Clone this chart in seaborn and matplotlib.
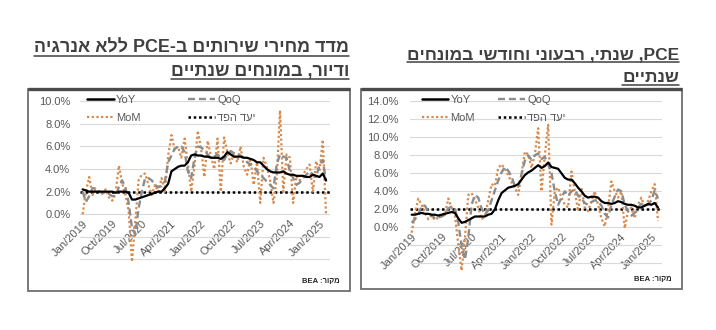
import numpy as np
import pandas as pd
import matplotlib
matplotlib.use('Agg')
import matplotlib.pyplot as plt
import seaborn as sns
from matplotlib.lines import Line2D
from matplotlib.patches import Rectangle
from matplotlib.ticker import FuncFormatter

# ---------------- data (monthly, Jan 2019 - Mar 2025, % annualized) ----------------
tick_labels = ['Jan/2019', 'Oct/2019', 'Jul/2020', 'Apr/2021', 'Jan/2022',
               'Oct/2022', 'Jul/2023', 'Apr/2024', 'Jan/2025']
tick_positions = [0, 9, 18, 27, 36, 45, 54, 63, 72]
fed_target = 2.0

# Left panel: PCE services ex energy & housing
left_yoy = [2.2, 2.1, 2.0, 2.0, 2.0, 2.0, 2.0, 2.0, 2.0, 2.0, 1.9, 2.0,
            2.0, 2.0, 1.9, 1.3, 1.3, 1.4, 1.5, 1.6, 1.7, 1.8, 1.9, 2.0,
            2.0, 2.3, 2.7, 3.8, 4.0, 4.2, 4.3, 4.3, 4.6, 5.2, 5.3, 5.2,
            5.2, 5.1, 5.1, 5.0, 5.0, 5.0, 4.9, 5.1, 5.5, 5.3, 5.1, 5.1,
            5.1, 5.0, 5.0, 4.9, 4.8, 4.6, 4.6, 4.3, 4.0, 3.8, 3.7, 3.7,
            3.7, 3.8, 3.6, 3.5, 3.5, 3.4, 3.4, 3.4, 3.3, 3.3, 3.5, 3.4,
            3.3, 3.6, 3.0]
left_qoq = [2.0, 1.1, 1.6, 2.3, 2.3, 2.0, 1.9, 1.9, 1.8, 1.6, 1.6, 2.4,
            3.0, 2.4, 1.0, -1.2, -1.8, 0.5, 2.0, 3.2, 3.2, 3.0, 2.6, 2.4,
            2.5, 2.9, 4.6, 5.2, 5.8, 6.0, 6.0, 5.5, 3.8, 3.2, 5.0, 6.0,
            5.9, 5.7, 5.3, 5.0, 5.1, 5.3, 5.0, 4.8, 5.3, 5.6, 5.4, 5.3,
            5.2, 5.0, 4.6, 4.4, 4.2, 3.8, 3.5, 3.2, 2.9, 2.6, 2.3, 4.4,
            5.3, 5.1, 5.0, 3.8, 3.2, 2.6, 2.8, 3.2, 3.5, 3.8, 3.5, 3.3,
            4.4, 4.8, 2.9]
left_mom = [0.0, 2.0, 3.3, 1.7, 2.2, 2.0, 1.8, 2.2, 1.5, 1.2, 1.8, 4.3,
            2.8, 1.7, 0.3, -4.2, -0.7, 3.0, 3.5, 3.6, 2.6, 1.7, 2.6, 2.0,
            3.2, 2.0, 5.2, 7.0, 5.7, 6.0, 5.0, 6.7, 4.5, 2.0, 4.2, 7.4,
            5.8, 3.3, 6.5, 5.2, 4.0, 6.7, 2.0, 6.8, 5.5, 4.5, 5.4, 4.6,
            6.0, 4.2, 3.5, 5.0, 2.6, 4.6, 1.0, 5.0, 4.2, 3.0, 1.0, 3.2,
            9.2, 2.0, 5.3, 5.0, 1.0, 3.4, 3.0, 3.5, 4.0, 4.4, 2.0, 4.7,
            3.8, 6.6, 0.0]

# Right panel: headline PCE
right_yoy = [1.4, 1.4, 1.5, 1.6, 1.5, 1.5, 1.4, 1.4, 1.3, 1.4, 1.5, 1.6,
             1.7, 1.6, 1.0, 0.5, 0.6, 0.8, 1.0, 1.2, 1.2, 1.2, 1.2, 1.4,
             1.5, 2.0, 3.0, 3.8, 4.1, 4.4, 4.5, 4.6, 4.8, 5.3, 5.8, 6.1,
             6.3, 6.6, 6.9, 6.6, 6.8, 7.2, 6.7, 6.6, 6.5, 6.0, 5.5, 5.3,
             5.3, 4.9, 4.4, 4.0, 3.5, 3.3, 3.4, 3.4, 3.3, 2.9, 2.7, 2.7,
             2.6, 2.7, 2.9, 2.8, 2.6, 2.5, 2.5, 2.4, 2.2, 2.2, 2.4, 2.6,
             2.5, 2.7, 2.2]
right_qoq = [0.5, 0.9, 1.4, 2.4, 2.4, 1.7, 1.3, 1.0, 1.1, 1.2, 1.4, 2.1,
             2.3, 2.1, 0.5, -2.0, -3.6, -1.2, 2.5, 3.6, 3.3, 2.1, 1.4, 1.9,
             3.0, 4.1, 5.2, 6.1, 6.7, 6.3, 5.6, 4.6, 4.5, 5.9, 7.4, 8.0,
             7.5, 8.0, 8.2, 7.6, 7.8, 7.0, 6.0, 4.0, 2.5, 3.3, 4.0, 3.5,
             4.0, 4.2, 3.5, 3.2, 2.7, 2.5, 2.8, 3.0, 2.9, 2.4, 1.5, 1.1,
             2.5, 3.4, 4.2, 4.0, 2.5, 1.8, 1.3, 1.6, 2.2, 2.6, 2.4, 2.5,
             3.0, 4.1, 3.2]
right_mom = [-0.6, 1.5, 3.2, 2.5, 1.6, 0.9, 1.3, 0.8, 1.1, 1.6, 1.4, 3.2,
             2.2, 1.3, -1.9, -4.8, -1.2, 3.6, 3.8, 3.1, 2.2, 0.9, 1.2, 3.0,
             4.8, 4.6, 6.6, 7.0, 6.5, 5.8, 5.0, 4.4, 3.6, 5.9, 8.4, 8.1,
             6.6, 8.1, 11.0, 4.0, 8.0, 11.4, 0.3, 4.0, 4.4, 3.3, 2.5, 2.2,
             6.2, 4.0, 1.8, 4.4, 2.2, 1.8, 2.9, 4.0, 2.5, 1.0, 0.1, 2.1,
             5.1, 4.0, 3.3, 4.0, -0.1, 1.8, 2.2, 1.0, 2.5, 3.3, 2.2, 2.9,
             4.0, 4.8, 0.7]

# ---------------- style ----------------
sns.set_style('white')
plt.rcParams['font.family'] = ['Liberation Sans', 'DejaVu Sans']

W, H = 716, 330
fig = plt.figure(figsize=(W / 100, H / 100), dpi=100)
fig.patch.set_facecolor('white')

def fx(px):
    return px / W

def fy(py):
    return 1 - py / H

ORANGE = '#D9894A'
GRAY = '#8C8C8C'
TXT = '#595959'
TITLE_COL = '#404040'
GRID = '#D9D9D9'

# Hebrew strings in visual (left-to-right) order (right-to-left paragraphs)
fed_label = 'יעד הפד'[::-1]
source_label = 'BEA :' + 'מקור'[::-1]
left_title_1 = 'ללא אנרגיה'[::-1] + ' PCE-' + 'מדד מחירי שירותים ב'[::-1]
left_title_2 = 'ודיור, במונחים שנתיים'[::-1]
right_title_1 = 'שנתי, רבעוני וחודשי במונחים'[::-1] + ' ,PCE'
right_title_2 = 'שנתיים'[::-1]


def panel(box, ax_px, xlim, ymax, yoy, qoq, mom, leg_x, colspace, ylab_pad, title_lines, title_right, title_bases, title_width):
    bx0, by0, bx1, by1 = box
    # chart frame
    fig.add_artist(Rectangle((fx(bx0), fy(by1)), fx(bx1) - fx(bx0), (by1 - by0) / H,
                             transform=fig.transFigure, fill=False, edgecolor='#6E6E6E', lw=1.3))
    fig.add_artist(Line2D([fx(bx0), fx(bx1)], [fy(by0), fy(by0)], transform=fig.transFigure,
                          color='#4A4A4A', lw=2.4, solid_capstyle='butt'))

    x0, x1, yt, yb = ax_px
    ax = fig.add_axes([fx(x0), fy(yb), fx(x1) - fx(x0), (yb - yt) / H])
    n = len(yoy)
    df = pd.DataFrame({'month': np.arange(n), 'YoY': yoy, 'QoQ': qoq, 'MoM': mom})

    ax.axhline(fed_target, color='black', lw=1.8, linestyle=(0, (1, 1.1)), zorder=2)
    sns.lineplot(data=df, x='month', y='MoM', ax=ax, color=ORANGE, lw=1.6,
                 linestyle=(0, (1, 1.1)), zorder=3)
    sns.lineplot(data=df, x='month', y='QoQ', ax=ax, color=GRAY, lw=1.7,
                 linestyle=(0, (3, 1.6)), zorder=4)
    sns.lineplot(data=df, x='month', y='YoY', ax=ax, color='black', lw=1.6, zorder=5)

    ax.set_xlim(*xlim)
    ax.set_ylim(-6, ymax)
    ax.set_yticks(np.arange(-6, ymax + 0.1, 2))
    ax.yaxis.set_major_formatter(FuncFormatter(lambda v, p: '' if v < -0.01 else f'{v:.1f}%'))
    ax.grid(axis='y', color=GRID, lw=0.8)
    ax.set_axisbelow(True)
    for s in ['top', 'right', 'left']:
        ax.spines[s].set_visible(False)
    ax.spines['bottom'].set_position(('data', 0))
    ax.spines['bottom'].set_visible(False)
    ax.set_xticks(tick_positions)
    ax.set_xticklabels(tick_labels, rotation=45, ha='right', va='top', rotation_mode='anchor')
    ax.tick_params(axis='x', length=0, pad=3, labelsize=8, labelcolor=TXT)
    ax.tick_params(axis='y', length=0, pad=ylab_pad, labelsize=8, labelcolor=TXT)
    ax.set_xlabel('')
    ax.set_ylabel('')
    ax.set_facecolor('none')

    handles = [Line2D([], [], color='black', lw=1.8),
               Line2D([], [], color=ORANGE, lw=1.6, linestyle=(0, (1, 1.1))),
               Line2D([], [], color=GRAY, lw=1.7, linestyle=(0, (3, 1.6))),
               Line2D([], [], color='black', lw=1.8, linestyle=(0, (1, 1.1)))]
    labels = ['YoY', 'MoM', 'QoQ', fed_label]
    ax.legend(handles, labels, ncol=2, loc='upper left', bbox_to_anchor=(leg_x, 1.035),
              frameon=False, fontsize=8, handlelength=2.4, handletextpad=0.2,
              columnspacing=colspace, labelspacing=0.75, borderpad=0, borderaxespad=0,
              labelcolor=TXT)

    fig.text(fx(bx1 - 10), fy(by1 - 10), source_label, ha='right', va='center',
             fontsize=5.5, fontweight='bold', color='#262626')

    # titles (right aligned, bold, underlined)
    r = fig.canvas.get_renderer()
    t1 = fig.text(fx(title_right), fy(title_bases[0]), title_lines[0], ha='right', va='baseline',
                  fontsize=13, fontweight='bold', color=TITLE_COL)
    w = t1.get_window_extent(r).width
    fs = 13 * title_width / w
    t1.set_fontsize(fs)
    t2 = fig.text(fx(title_right), fy(title_bases[1]), title_lines[1], ha='right', va='baseline',
                  fontsize=fs, fontweight='bold', color=TITLE_COL)
    for t, yb_ in zip([t1, t2], title_bases):
        e = t.get_window_extent(r)
        fig.add_artist(Line2D([e.x0 / W, e.x1 / W], [fy(yb_ + 3), fy(yb_ + 3)],
                              transform=fig.transFigure, color=TITLE_COL, lw=1.1))
    return ax


fig.canvas.draw()
panel(box=(28, 89, 350, 291), ax_px=(80, 330, 101.3, 282), xlim=(-0.8, 75.2), ymax=10,
      yoy=left_yoy, qoq=left_qoq, mom=left_mom, leg_x=0.028, colspace=4.3, ylab_pad=7,
      title_lines=[left_title_1, left_title_2], title_right=349, title_bases=[53, 76],
      title_width=314)
panel(box=(361, 89, 682, 289), ax_px=(410, 662, 101.3, 281.3), xlim=(-0.5, 75.2), ymax=14,
      yoy=right_yoy, qoq=right_qoq, mom=right_mom, leg_x=0.046, colspace=2.1, ylab_pad=8,
      title_lines=[right_title_1, right_title_2], title_right=679, title_bases=[59, 82],
      title_width=271)

fig.savefig('out.png', dpi=100, facecolor='white')
